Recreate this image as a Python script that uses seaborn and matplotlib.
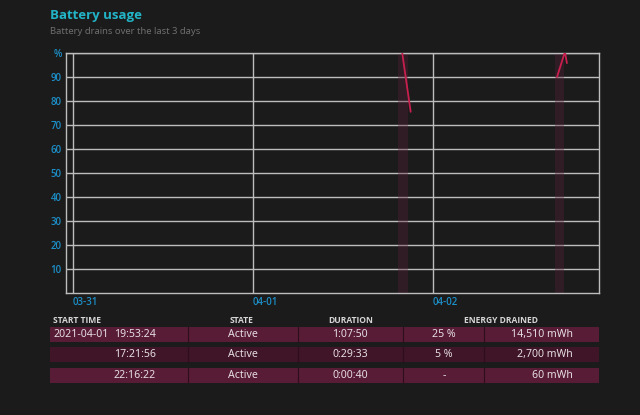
import matplotlib
matplotlib.use("Agg")
import matplotlib.pyplot as plt
import seaborn as sns
import pandas as pd
from matplotlib.patches import Rectangle

# ---- data ----
session_ids = ["s1", "s1", "s2", "s2", "s2"]
session_days = [1.829, 1.876, 2.689, 2.733, 2.744]      # days since 03-31 00:00
battery_pct = [100, 75.5, 90, 100.5, 95.8]
active_start = [1.808, 2.680]
active_end = [1.860, 2.730]
day_ticks = [0, 1, 2]
day_labels = ["03-31", "04-01", "04-02"]
y_ticks = [10, 20, 30, 40, 50, 60, 70, 80, 90, 100]
y_labels = ["10", "20", "30", "40", "50", "60", "70", "80", "90", "%"]

col_headers = ["START TIME", "STATE", "DURATION", "ENERGY DRAINED"]
row_dates = ["2021-04-01", "", ""]
row_times = ["19:53:24", "17:21:56", "22:16:22"]
row_states = ["Active", "Active", "Active"]
row_durations = ["1:07:50", "0:29:33", "0:00:40"]
row_percent = ["25 %", "5 %", "-"]
row_energy = ["14,510 mWh", "2,700 mWh", "60 mWh"]

BG = "#1b1b1b"
GRID = "#bdbdbd"
BLUE = "#1b8ec6"
CYAN = "#22b4c6"
LINE = "#c8204e"
BOLDFAM = ["Open Sans", "Lato", "DejaVu Sans"]

sns.set_theme(style="dark")
plt.rcParams["font.family"] = ["Noto Sans", "DejaVu Sans"]

fig = plt.figure(figsize=(6.4, 4.15), dpi=100, facecolor=BG)
ax = fig.add_axes([66/640, 1-293/415, (599-66)/640, (293-53)/415])
ax.set_facecolor(BG)

for s, e in zip(active_start, active_end):
    ax.axvspan(s, e, color="#5a1f38", alpha=0.35, lw=0, zorder=1)

df = pd.DataFrame({"session": session_ids, "day": session_days, "pct": battery_pct})
sns.lineplot(data=df, x="day", y="pct", units="session", estimator=None,
             color=LINE, lw=1.3, ax=ax, zorder=3, legend=False)

ax.set_xlim(-7/180, 526/180)
ax.set_ylim(0, 100)
ax.set_xticks(day_ticks)
ax.set_xticklabels(day_labels, ha="left")
ax.set_yticks(y_ticks)
ax.set_yticklabels(y_labels)
ax.set_xlabel("")
ax.set_ylabel("")
ax.grid(True, color=GRID, lw=1.0, zorder=2)
ax.tick_params(axis="both", length=0, colors=BLUE, labelsize=7.0, pad=3)
for lab in ax.get_xticklabels() + ax.get_yticklabels():
    lab.set_color(BLUE)
    lab.set_family(BOLDFAM)
    lab.set_fontweight("semibold")
for sp in ax.spines.values():
    sp.set_visible(True)
    sp.set_color(GRID)
    sp.set_linewidth(1.0)

# title
fig.text(50/640, 1-16/415, "Battery usage", color=CYAN, fontsize=9.5,
         fontweight="bold", family=BOLDFAM, va="center", ha="left")
fig.text(50/640, 1-31/415, "Battery drains over the last 3 days", color="#6e6e6e",
         fontsize=6.8, va="center", ha="left")

# table in pixel coordinates
tax = fig.add_axes([0, 0, 1, 1])
tax.set_xlim(0, 640)
tax.set_ylim(415, 0)
tax.axis("off")
tax.patch.set_alpha(0)

hdr_y = 320
hdr_x = [53, 230, 328, 464]
for x, h in zip(hdr_x, col_headers):
    tax.text(x, hdr_y, h, color="#d6d6d6", fontsize=6.1, fontweight="bold",
             family=BOLDFAM, ha="left", va="center")

row_top = [327, 347, 368]
row_h = 15
row_colors = ["#581c37", "#3f1527", "#581c37"]
seps = [188, 298, 403, 484]
for i in range(3):
    y0 = row_top[i]
    tax.add_patch(Rectangle((50, y0), 549, row_h, color=row_colors[i], lw=0))
    for sx in seps:
        tax.plot([sx, sx], [y0, y0 + row_h], color="#2c0f1a", lw=0.8)
    yc = y0 + row_h / 2
    tc = "#e6dde1"
    fs = 7.6
    if row_dates[i]:
        tax.text(53, yc, row_dates[i], color=tc, fontsize=fs, ha="left", va="center")
    tax.text(156, yc, row_times[i], color=tc, fontsize=fs, ha="right", va="center")
    tax.text(243, yc, row_states[i], color=tc, fontsize=fs, ha="center", va="center")
    tax.text(350, yc, row_durations[i], color=tc, fontsize=fs, ha="center", va="center")
    tax.text(444, yc, row_percent[i], color=tc, fontsize=fs, ha="center", va="center")
    tax.text(573, yc, row_energy[i], color=tc, fontsize=fs, ha="right", va="center")

fig.savefig("out.png", dpi=100, facecolor=BG)
